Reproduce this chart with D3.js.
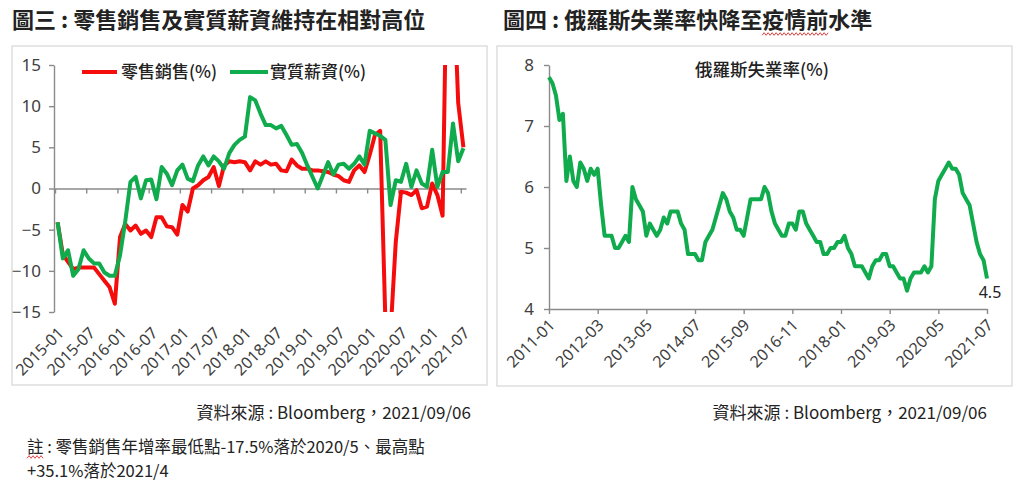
<!DOCTYPE html>
<html>
<head>
<meta charset="utf-8">
<script src="https://cdn.jsdelivr.net/npm/d3@7"></script>
<style>
  body { margin: 0; background: #fff; }
  svg { display: block; font-family: 'Noto Sans CJK TC', 'Noto Sans', sans-serif; }
</style>
</head>
<body>
<svg id="page" width="1024" height="487"></svg>
<script>
// ---- data ----
const monthFmt = d3.timeFormat('%Y-%m')

// fig 3: Russia retail sales yoy and real wages yoy, 2015-01 .. 2021-07
const retailMonths = d3.timeMonth.range(new Date(2015, 0, 1), new Date(2021, 7, 1)).map(monthFmt)

const retailSales = [
  -4.1, -8.0, -8.9, -9.8, -9.6, -9.6, -9.6, -9.6, -10.4, -11.2, -12.0, -14.0,
  -5.9, -4.3, -5.1, -4.5, -5.5, -5.1, -5.9, -3.5, -3.5, -4.6, -4.7, -5.6,
  -2.0, -2.8, 0.0, 0.4, 1.0, 1.4, 2.6, 0.3, 2.8, 3.3, 3.2, 3.3,
  3.2, 2.2, 3.3, 2.9, 3.3, 2.9, 3.0, 2.2, 2.1, 3.5, 2.8, 2.4,
  2.4, 2.2, 2.2, 2.1, 2.0, 1.7, 1.5, 1.0, 0.8, 2.2, 2.8, 2.0,
  4.1, 6.5, 7.0, -16.0, -17.5, -6.5, -0.4, -0.5, -0.8, -0.2, -2.4, -2.2,
  0.6, -0.8, -3.3, 35.1, 27.2, 10.4, 5.0
]

const realWages = [
  -4.1, -8.5, -7.5, -10.6, -9.8, -7.5, -8.5, -9.1, -9.1, -10.2, -10.6, -10.6,
  -8.1, -4.0, 0.8, 1.4, -1.2, 1.0, 1.1, -1.3, 2.6, 1.8, 0.4, 2.2,
  2.9, 1.2, 0.9, 2.8, 3.9, 2.8, 3.9, 3.3, 2.4, 4.3, 5.3, 5.9,
  6.3, 11.1, 10.7, 9.1, 7.7, 7.7, 7.3, 7.6, 6.5, 5.3, 5.4, 4.3,
  2.8, 1.4, 0.0, 1.6, 3.2, 1.7, 2.9, 3.0, 2.4, 3.0, 3.9, 2.9,
  7.0, 6.7, 6.4, 5.9, -2.0, 1.0, 0.8, 3.0, 0.2, 2.2, 0.6, 0.2,
  4.7, 0.2, 2.0, 2.0, 7.9, 3.3, 4.9
]

const retailTickLabels = ['2015-01', '2015-07', '2016-01', '2016-07', '2017-01', '2017-07', '2018-01',
  '2018-07', '2019-01', '2019-07', '2020-01', '2020-07', '2021-01', '2021-07']
const retailYTicks = [-15, -10, -5, 0, 5, 10, 15]

// fig 4: Russia unemployment rate, 2011-01 .. 2021-07
const jobMonths = d3.timeMonth.range(new Date(2011, 0, 1), new Date(2021, 7, 1)).map(monthFmt)

const unemployment = [
  7.8, 7.7, 7.5, 7.1, 7.2, 6.1, 6.5, 6.1, 6.0, 6.4, 6.3, 6.1,
  6.3, 6.2, 6.3, 5.7, 5.2, 5.2, 5.2, 5.0, 5.0, 5.1, 5.2, 5.1,
  6.0, 5.8, 5.7, 5.6, 5.2, 5.4, 5.3, 5.2, 5.3, 5.5, 5.4, 5.6,
  5.6, 5.6, 5.4, 5.3, 4.9, 4.9, 4.9, 4.8, 4.8, 5.1, 5.2, 5.3,
  5.5, 5.7, 5.9, 5.8, 5.6, 5.5, 5.3, 5.3, 5.2, 5.5, 5.8, 5.8,
  5.8, 5.8, 6.0, 5.9, 5.6, 5.4, 5.3, 5.2, 5.2, 5.4, 5.4, 5.3,
  5.6, 5.6, 5.4, 5.3, 5.2, 5.1, 5.1, 4.9, 4.9, 5.0, 5.0, 5.1,
  5.1, 5.2, 5.0, 4.9, 4.7, 4.7, 4.7, 4.6, 4.5, 4.7, 4.8, 4.8,
  4.9, 4.9, 4.7, 4.7, 4.6, 4.5, 4.5, 4.3, 4.5, 4.6, 4.6, 4.6,
  4.7, 4.6, 4.7, 5.8, 6.1, 6.2, 6.3, 6.4, 6.3, 6.3, 6.2, 5.9,
  5.8, 5.7, 5.4, 5.1, 4.9, 4.8, 4.5
]

const jobTickLabels = ['2011-01', '2012-03', '2013-05', '2014-07', '2015-09', '2016-11',
  '2018-01', '2019-03', '2020-05', '2021-07']
const jobYTicks = [4, 5, 6, 7, 8]

// ---- styles ----
const RED = '#f50d0d'
const GREEN = '#10ab4c'
const AXIS = '#8a8a8a'
const TICK_TEXT = '#404040'
const TEXT = '#222'

const svg = d3.select('#page')

// panel frames
const frames = [[12, 46, 475, 339], [497, 46, 515, 340]]
svg.selectAll('rect.frame')
  .data(frames)
  .join('rect')
  .attr('class', 'frame')
  .attr('x', d => d[0])
  .attr('y', d => d[1])
  .attr('width', d => d[2])
  .attr('height', d => d[3])
  .attr('fill', '#fff')
  .attr('stroke', '#dedede')
  .attr('stroke-width', 1.5)

// wavy spell-check underline below a slice of a text element
function squiggle(textSel, from, to, offset) {
  const node = textSel.node()
  const x0 = node.getStartPositionOfChar(from).x
  const x1 = node.getEndPositionOfChar(to).x
  const y = node.getStartPositionOfChar(from).y + offset
  const pts = d3.range(x0, x1 + 0.1, 2).map((x, k) => [x, y + (k % 2 ? -1.3 : 1.3)])
  svg.append('path')
    .attr('d', d3.line()(pts))
    .attr('fill', 'none')
    .attr('stroke', '#e03030')
    .attr('stroke-width', 0.9)
}

// titles
svg.append('text')
  .attr('x', 12).attr('y', 28)
  .attr('font-size', 22).attr('font-weight', 'bold').attr('fill', TEXT)
  .text('圖三 : 零售銷售及實質薪資維持在相對高位')

const title4 = svg.append('text')
  .attr('x', 503).attr('y', 28)
  .attr('font-size', 22).attr('font-weight', 'bold').attr('fill', TEXT)
  .text('圖四 : 俄羅斯失業率快降至疫情前水準')
squiggle(title4, 14, 16, 6)

// ---- left chart ----
const xL = d3.scaleLinear().domain([0, retailMonths.length]).range([55, 466])
const yL = d3.scaleLinear().domain([-15, 15]).range([312, 65])

const left = svg.append('g')

left.append('g')
  .attr('transform', `translate(54, 0)`)
  .call(d3.axisLeft(yL).tickValues(retailYTicks).tickSize(5).tickSizeOuter(0).tickPadding(8))
  .call(g => g.selectAll('path, line').attr('stroke', AXIS).attr('stroke-width', 1.4))
  .call(g => g.selectAll('text').attr('font-size', 17).attr('fill', TICK_TEXT)
    .attr('font-family', "'Noto Sans', sans-serif"))

const retailTickIdx = retailTickLabels.map(l => retailMonths.indexOf(l))

left.append('g')
  .attr('transform', `translate(0, ${yL(0)})`)
  .call(d3.axisBottom(xL).tickValues(retailTickIdx).tickSize(5).tickSizeOuter(0).tickFormat(''))
  .call(g => g.selectAll('path, line').attr('stroke', AXIS).attr('stroke-width', 1.4))

left.selectAll('text.xlab')
  .data(retailTickIdx)
  .join('text')
  .attr('class', 'xlab')
  .attr('transform', i => `translate(${xL(i) + 10}, ${yL(-15) + 22}) rotate(-45)`)
  .attr('text-anchor', 'end')
  .attr('font-size', 16)
  .attr('font-family', "'Noto Sans', sans-serif")
  .attr('fill', TICK_TEXT)
  .text((i, k) => retailTickLabels[k])

left.append('clipPath').attr('id', 'clipL')
  .append('rect')
  .attr('x', 54).attr('y', yL(15))
  .attr('width', 420).attr('height', yL(-15) - yL(15))

const lineL = d3.line()
  .x((d, i) => xL(i + 0.5))
  .y(d => yL(d))

const seriesL = [
  { name: '零售銷售(%)', values: retailSales, color: RED },
  { name: '實質薪資(%)', values: realWages, color: GREEN }
]

left.append('g')
  .attr('clip-path', 'url(#clipL)')
  .selectAll('path')
  .data(seriesL)
  .join('path')
  .attr('d', s => lineL(s.values))
  .attr('fill', 'none')
  .attr('stroke', s => s.color)
  .attr('stroke-width', 4)
  .attr('stroke-linejoin', 'round')

// legend
const legendX = [82, 230]
const legend = left.selectAll('g.legend')
  .data(seriesL)
  .join('g')
  .attr('class', 'legend')
  .attr('transform', (s, k) => `translate(${legendX[k]}, 72)`)

legend.append('line')
  .attr('x1', 0).attr('x2', (s, k) => k ? 38 : 35)
  .attr('stroke', s => s.color)
  .attr('stroke-width', 4)

legend.append('text')
  .attr('x', (s, k) => k ? 40 : 39)
  .attr('dy', '0.36em')
  .attr('font-size', 17)
  .attr('font-weight', 500)
  .attr('fill', TEXT)
  .text(s => s.name)

// ---- right chart ----
const xR = d3.scaleLinear().domain([0, jobMonths.length - 1]).range([549, 987])
const yR = d3.scaleLinear().domain([4, 8]).range([309, 65])

const right = svg.append('g')

right.append('g')
  .attr('transform', `translate(${xR(0)}, 0)`)
  .call(d3.axisLeft(yR).tickValues(jobYTicks).tickFormat(d3.format('d'))
    .tickSize(5).tickSizeOuter(0).tickPadding(10))
  .call(g => g.selectAll('path, line').attr('stroke', AXIS).attr('stroke-width', 1.4))
  .call(g => g.selectAll('text').attr('font-size', 17).attr('fill', TICK_TEXT)
    .attr('font-family', "'Noto Sans', sans-serif"))

const jobTickIdx = jobTickLabels.map(l => jobMonths.indexOf(l))

right.append('g')
  .attr('transform', `translate(0, ${yR(4)})`)
  .call(d3.axisBottom(xR).tickValues(jobTickIdx).tickSize(5).tickSizeOuter(0).tickFormat(''))
  .call(g => g.selectAll('path, line').attr('stroke', AXIS).attr('stroke-width', 1.4))

right.selectAll('text.xlab')
  .data(jobTickIdx)
  .join('text')
  .attr('class', 'xlab')
  .attr('transform', i => `translate(${xR(i) + 7}, ${yR(4) + 17}) rotate(-45)`)
  .attr('text-anchor', 'end')
  .attr('font-size', 16)
  .attr('font-family', "'Noto Sans', sans-serif")
  .attr('fill', TICK_TEXT)
  .text((i, k) => jobTickLabels[k])

right.append('path')
  .datum(unemployment)
  .attr('d', d3.line().x((d, i) => xR(i)).y(d => yR(d)))
  .attr('fill', 'none')
  .attr('stroke', GREEN)
  .attr('stroke-width', 4)
  .attr('stroke-linejoin', 'round')

right.append('text')
  .attr('x', 695).attr('y', 70)
  .attr('dy', '0.36em')
  .attr('font-size', 17.5)
  .attr('font-weight', 500)
  .attr('fill', TEXT)
  .text('俄羅斯失業率(%)')

const last = unemployment.length - 1
right.append('text')
  .attr('x', xR(last) + 3)
  .attr('y', yR(unemployment[last]) + 19)
  .attr('text-anchor', 'middle')
  .attr('font-size', 16)
  .attr('font-family', "'Noto Sans', sans-serif")
  .attr('fill', TEXT)
  .text(unemployment[last].toFixed(1))

// ---- source lines and note ----
svg.selectAll('text.source')
  .data([471, 987])
  .join('text')
  .attr('class', 'source')
  .attr('x', d => d)
  .attr('y', 419)
  .attr('text-anchor', 'end')
  .attr('font-size', 17)
  .attr('fill', TEXT)
  .text('資料來源 : Bloomberg，2021/09/06')

// two-line note
const noteLines = ['註 : 零售銷售年增率最低點-17.5%落於2020/5、最高點', '+35.1%落於2021/4']
const note = svg.selectAll('text.note')
  .data(noteLines)
  .join('text')
  .attr('class', 'note')
  .attr('x', 27)
  .attr('y', (d, k) => 453 + k * 24)
  .attr('font-size', 16.5)
  .attr('fill', TEXT)
  .text(d => d)
squiggle(d3.select(note.node()), 0, 0, 4)
</script>
</body>
</html>
